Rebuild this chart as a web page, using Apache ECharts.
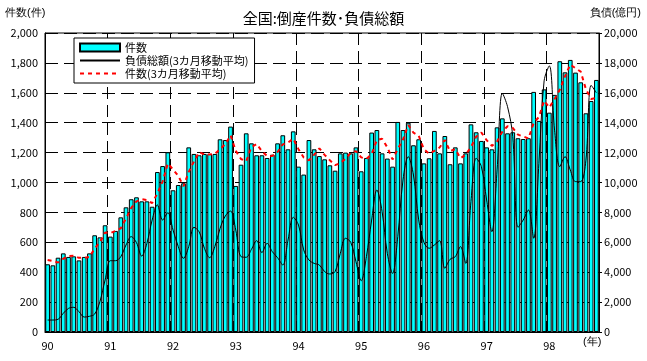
<!DOCTYPE html>
<html><head><meta charset="utf-8">
<script src="https://cdn.jsdelivr.net/npm/echarts@6/dist/echarts.min.js"></script>
<style>html,body{margin:0;padding:0;background:#fff}#c{width:647px;height:361px}</style>
</head><body><div id="c"></div>
<script>
const years = ['90','91','92','93','94','95','96','97','98'];
const monthsPerYear = [12,12,12,12,12,12,12,12,10];
// 件数 (monthly)
const counts = [
 453,446,497,526,502,506,479,502,526,647,633,714,
 638,676,767,834,888,901,874,874,838,1070,1110,1202,
 948,983,995,1235,1191,1182,1191,1191,1191,1289,1284,1374,
 977,1119,1329,1262,1182,1182,1164,1186,1262,1316,1222,1342,
 1106,1053,1284,1222,1177,1155,1115,1079,1195,1200,1195,1235,
 1075,1164,1334,1351,1195,1160,1106,1405,1351,1400,1249,1289,
 1128,1162,1345,1195,1311,1122,1235,1128,1195,1389,1336,1278,
 1235,1222,1369,1429,1329,1336,1296,1291,1296,1606,1412,1623,
 1467,1586,1811,1737,1820,1735,1670,1463,1545,1686
];
// 件数(3カ月移動平均)
const countsMA = [
 482,475,465,490,508,511,496,496,502,558,602,665,
 662,676,694,759,830,874,888,883,862,927,1006,1127,
 1087,1044,975,1071,1140,1203,1188,1188,1191,1224,1255,1316,
 1212,1157,1142,1237,1258,1209,1176,1177,1204,1255,1267,1293,
 1223,1167,1148,1186,1228,1185,1149,1116,1130,1158,1197,1210,
 1168,1158,1191,1283,1293,1235,1154,1224,1287,1385,1333,1313,
 1222,1193,1212,1234,1284,1209,1223,1162,1186,1237,1307,1334,
 1283,1245,1275,1340,1376,1365,1320,1308,1294,1398,1438,1547,
 1501,1559,1621,1711,1789,1764,1742,1623,1559,1565
];
// 負債総額(3カ月移動平均) 億円
const debt = [
 800,800,850,1250,1580,1650,1360,1000,1050,1200,2030,3480,
 4770,4770,5040,5820,6380,5980,5080,5930,7490,8500,7490,7980,
 6820,5710,4930,5710,7000,6700,5600,4970,5710,6930,7760,8090,
 6820,5040,5000,5530,6110,5310,5930,5370,4970,4480,6150,7670,
 7160,5490,4820,4590,4480,4040,3880,4040,5260,6270,6000,4700,
 3430,5040,7490,9500,8050,5260,3920,6380,10170,11730,10500,7500,
 6000,5600,5820,6110,4260,4860,5040,5710,4590,8720,11620,11060,
 8830,6710,10840,15970,15070,13070,7000,7490,8160,6270,11280,16800,
 17800,13500,11060,11730,10840,10060,10060,11500,16500,16000
];
const categories = [];
years.forEach((y, i) => { for (let m = 1; m <= monthsPerYear[i]; m++) categories.push(y + '/' + m); });

const FONT = '"Noto Sans CJK JP", sans-serif';
const fmt = v => String(v).replace(/\B(?=(\d{3})+(?!\d))/g, ',');
const chart = echarts.init(document.getElementById('c'), null, {renderer: 'canvas'});
chart.setOption({
  animation: false,
  backgroundColor: '#fff',
  textStyle: {fontFamily: FONT},
  title: {text: '全国:倒産件数･負債総額', left: 'center', top: 6,
    textStyle: {fontSize: 15, fontWeight: 'normal', color: '#000', fontFamily: FONT}},
  graphic: [
    {type: 'text', left: 5, top: 7, style: {text: '件数(件)', fontSize: 11, fill: '#000', font: '11px ' + FONT}},
    {type: 'text', right: 6, top: 7, style: {text: '負債(億円)', fontSize: 11, fill: '#000', font: '11px ' + FONT}},
    {type: 'text', left: 583, top: 336, style: {text: '(年)', fontSize: 11, fill: '#000', font: '11px ' + FONT}}
  ],
  legend: {
    orient: 'vertical', left: 74, top: 38,
    itemWidth: 40, itemHeight: 8, itemGap: 0,
    padding: [3, 6, 3, 5],
    backgroundColor: '#fff', borderColor: '#000', borderWidth: 1, borderRadius: 0,
    textStyle: {fontSize: 11, color: '#000', fontFamily: FONT, lineHeight: 13},
    data: [
      {name: '件数', icon: 'rect'},
      {name: '負債総額(3カ月移動平均)', icon: 'inherit', itemStyle: {opacity: 0}},
      {name: '件数(3カ月移動平均)', icon: 'inherit', itemStyle: {opacity: 0}}
    ]
  },
  grid: {left: 45, right: 48, top: 33, bottom: 29, show: true, borderColor: '#000', borderWidth: 1, containLabel: false},
  xAxis: {
    type: 'category', data: categories, boundaryGap: true,
    axisLine: {lineStyle: {color: '#000', width: 1}},
    axisTick: {show: false},
    axisLabel: {interval: i => i % 12 === 0, formatter: v => v.split('/')[0], color: '#000', fontSize: 11, margin: 8, fontFamily: FONT},
    splitLine: {show: true, interval: i => i % 12 === 0, lineStyle: {color: '#000', width: 1, type: [12, 6]}}
  },
  yAxis: [
    {type: 'value', min: 0, max: 2000, interval: 200, position: 'left',
      axisLine: {show: true, lineStyle: {color: '#000'}},
      axisTick: {show: false},
      axisLabel: {formatter: fmt, color: '#000', fontSize: 11, margin: 7, fontFamily: FONT},
      splitLine: {show: true, lineStyle: {color: '#000', width: 1, type: [13, 6]}}},
    {type: 'value', min: 0, max: 20000, interval: 2000, position: 'right',
      axisLine: {show: true, lineStyle: {color: '#000'}},
      axisTick: {show: true, length: 3, lineStyle: {color: '#000'}},
      axisLabel: {formatter: fmt, color: '#000', fontSize: 11, margin: 5, fontFamily: FONT},
      splitLine: {show: false}}
  ],
  series: [
    {name: '件数', type: 'bar', data: counts, barCategoryGap: '10%',
      itemStyle: {color: '#00FFFF', borderColor: '#000', borderWidth: 1}, z: 2},
    {name: '負債総額(3カ月移動平均)', type: 'line', yAxisIndex: 1, data: debt, smooth: 0.35,
      symbol: 'none', lineStyle: {color: '#000', width: 1}, itemStyle: {color: '#000'}, z: 3},
    {name: '件数(3カ月移動平均)', type: 'line', data: countsMA, symbol: 'none',
      lineStyle: {color: '#ff0000', width: 2, type: [4, 4]}, itemStyle: {color: '#ff0000'}, z: 4}
  ]
});
</script></body></html>
